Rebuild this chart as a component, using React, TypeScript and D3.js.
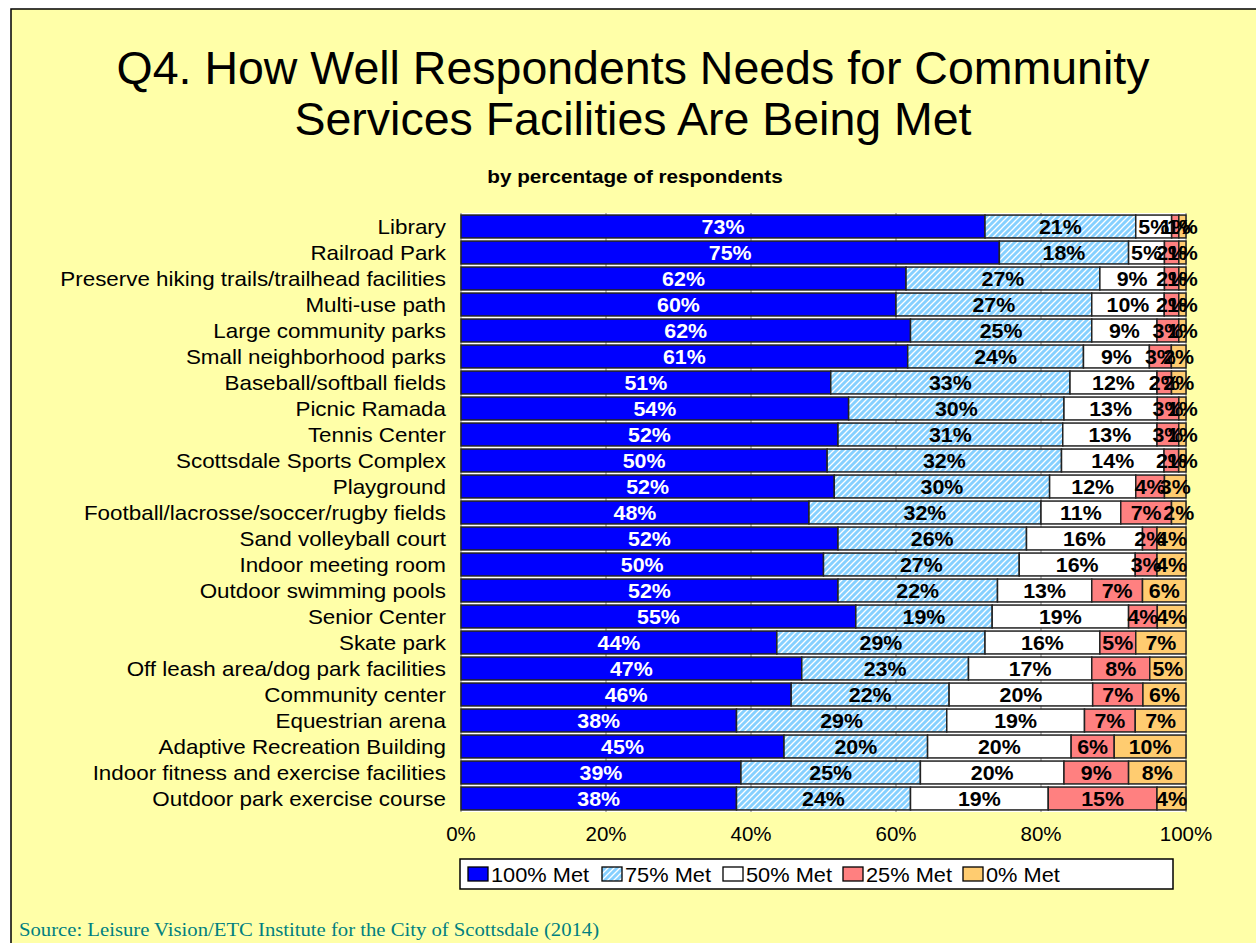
import React from "react";
import * as d3 from "d3";

const categories = [
  "Library",
  "Railroad Park",
  "Preserve hiking trails/trailhead facilities",
  "Multi-use path",
  "Large community parks",
  "Small neighborhood parks",
  "Baseball/softball fields",
  "Picnic Ramada",
  "Tennis Center",
  "Scottsdale Sports Complex",
  "Playground",
  "Football/lacrosse/soccer/rugby fields",
  "Sand volleyball court",
  "Indoor meeting room",
  "Outdoor swimming pools",
  "Senior Center",
  "Skate park",
  "Off leash area/dog park facilities",
  "Community center",
  "Equestrian arena",
  "Adaptive Recreation Building",
  "Indoor fitness and exercise facilities",
  "Outdoor park exercise course",
];

const met100 = [73, 75, 62, 60, 62, 61, 51, 54, 52, 50, 52, 48, 52, 50, 52, 55, 44, 47, 46, 38, 45, 39, 38];
const met75 = [21, 18, 27, 27, 25, 24, 33, 30, 31, 32, 30, 32, 26, 27, 22, 19, 29, 23, 22, 29, 20, 25, 24];
const met50 = [5, 5, 9, 10, 9, 9, 12, 13, 13, 14, 12, 11, 16, 16, 13, 19, 16, 17, 20, 19, 20, 20, 19];
const met25 = [1, 2, 2, 2, 3, 3, 2, 3, 3, 2, 4, 7, 2, 3, 7, 4, 5, 8, 7, 7, 6, 9, 15];
const met0 = [1, 1, 1, 1, 1, 2, 2, 1, 1, 1, 3, 2, 4, 4, 6, 4, 7, 5, 6, 7, 10, 8, 4];

const seriesNames = ["100% Met", "75% Met", "50% Met", "25% Met", "0% Met"];
const seriesData = [met100, met75, met50, met25, met0];
const xTicks = [0, 20, 40, 60, 80, 100];

const fills = ["#0000FF", "url(#hatch)", "#FFFFFF", "#FF8080", "#FFCC70"];
const labelColors = ["#FFFFFF", "#000000", "#000000", "#000000", "#000000"];

type TProps = {
  x: number;
  y: number;
  sx?: number;
  size: number;
  anchor?: string;
  weight?: string;
  fill?: string;
  family?: string;
  dy?: string;
  children: React.ReactNode;
};

function T({ x, y, sx = 1, size, anchor = "start", weight = "normal", fill = "#000", family, dy, children }: TProps) {
  return (
    <text
      transform={`translate(${x},${y}) scale(${sx},1)`}
      textAnchor={anchor}
      fontSize={size}
      fontWeight={weight}
      fill={fill}
      fontFamily={family}
      dy={dy}
    >
      {children}
    </text>
  );
}

export default function App() {
  const W = 1256;
  const H = 943;
  const x = d3.scaleLinear().domain([0, 100]).range([461, 1186]);
  const y = d3
    .scaleBand<string>()
    .domain(categories)
    .range([213.5, 811.5])
    .paddingInner(0.12)
    .paddingOuter(0.06);

  const rows = categories.map((c, i) => {
    const vals = seriesData.map((s) => s[i]);
    const total = d3.sum(vals);
    let acc = 0;
    const segs = vals.map((v, k) => {
      const x0 = (acc / total) * 100;
      acc += v;
      const x1 = (acc / total) * 100;
      return { k, v, x0, x1 };
    });
    return { c, segs };
  });

  const legendX = [468, 602, 723, 843, 963];

  return (
    <svg
      width={W}
      height={H}
      style={{ position: "absolute", left: 0, top: 0, fontFamily: "Arial, 'Liberation Sans', sans-serif" }}
    >
      <defs>
        <pattern id="hatch" patternUnits="userSpaceOnUse" width="6" height="6">
          <rect width="6" height="6" fill="#86D0FF" />
          <path d="M-1,1 l2,-2 M0,6 l6,-6 M5,7 l2,-2" stroke="#FFFFFF" strokeWidth="1.3" />
        </pattern>
      </defs>
      <rect x={0} y={0} width={W} height={H} fill="#FFFFFF" />
      <rect x={11} y={9} width={1270} height={960} fill="#FFFFA8" stroke="#000" strokeWidth={1.5} />

      <T x={633} y={84} size={46.5} anchor="middle">
        Q4. How Well Respondents Needs for Community
      </T>
      <T x={633} y={135} size={46.5} anchor="middle">
        Services Facilities Are Being Met
      </T>
      <T x={635} y={183} size={18} sx={1.15} anchor="middle" weight="bold">
        by percentage of respondents
      </T>

      {/* plot area */}
      <rect x={x(0)} y={213} width={x(100) - x(0)} height={599} fill="#FFFFFF" />
      {xTicks.map((t) => (
        <line key={t} x1={x(t)} x2={x(t)} y1={213} y2={812} stroke="#808080" strokeWidth={1} />
      ))}

      {rows.map((r) => (
        <g key={r.c}>
          {r.segs.map((s) => (
            <rect
              key={s.k}
              x={x(s.x0)}
              y={y(r.c)!}
              width={x(s.x1) - x(s.x0)}
              height={y.bandwidth()}
              fill={fills[s.k]}
              stroke="#222"
              strokeWidth={1.5}
            />
          ))}
          {r.segs.map((s) => (
            <T
              key={"t" + s.k}
              x={(x(s.x0) + x(s.x1)) / 2}
              y={y(r.c)! + y.bandwidth() / 2}
              dy="0.36em"
              anchor="middle"
              size={20}
              sx={1.07}
              weight="bold"
              fill={labelColors[s.k]}
            >
              {s.v}%
            </T>
          ))}
          <T x={446} y={y(r.c)! + y.bandwidth() / 2} dy="0.36em" anchor="end" size={20} sx={1.12}>
            {r.c}
          </T>
        </g>
      ))}

      {xTicks.map((t) => (
        <T key={"x" + t} x={x(t)} y={841} anchor="middle" size={20.5}>
          {t}%
        </T>
      ))}

      {/* legend */}
      <rect x={460} y={859} width={713} height={30} fill="#FFFFFF" stroke="#000" strokeWidth={1.5} />
      {seriesNames.map((n, i) => (
        <g key={n}>
          <rect x={legendX[i]} y={867} width={20} height={14} fill={fills[i]} stroke="#000" strokeWidth={1.3} />
          <T x={legendX[i] + 23} y={882} size={20} sx={1.09}>
            {n}
          </T>
        </g>
      ))}

      <T x={19} y={936} size={18} sx={1.15} fill="#008080" family="'Liberation Serif', 'Times New Roman', serif">
        Source:  Leisure Vision/ETC Institute for the City of Scottsdale (2014)
      </T>
    </svg>
  );
}
